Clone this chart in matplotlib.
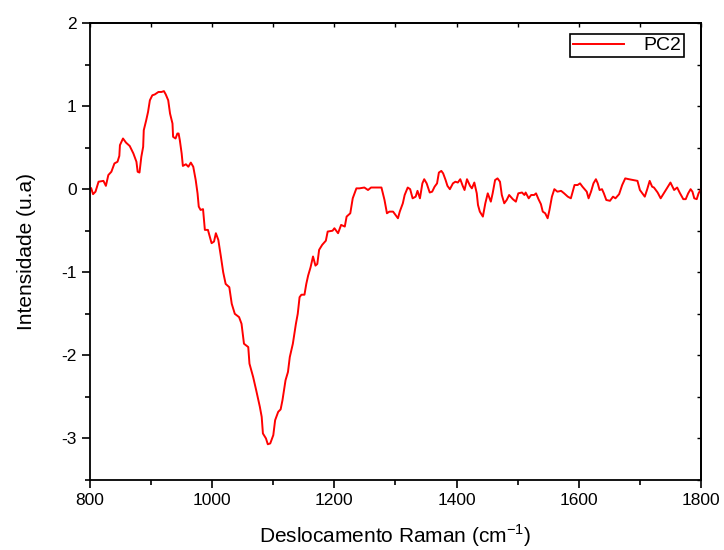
import matplotlib
matplotlib.use("Agg")
import matplotlib.pyplot as plt
from matplotlib.ticker import MultipleLocator

plt.rcParams['font.family'] = ['Liberation Sans', 'DejaVu Sans']
plt.rcParams['axes.unicode_minus'] = False
plt.rcParams['mathtext.fontset'] = 'custom'
plt.rcParams['mathtext.rm'] = 'Liberation Sans'

wavenumber = [802, 805, 809, 814, 822, 826, 830, 835, 840, 845, 848, 849, 854, 859, 865,
              871, 876, 878, 881, 884, 887, 888, 892, 895, 898, 902, 906, 912, 917, 921,
              924, 928, 931, 935, 936, 940, 943, 945, 947, 950, 952, 957, 961, 965, 969,
              973, 976, 978, 981, 985, 988, 993, 999, 1003, 1006, 1010, 1014, 1018, 1022,
              1028, 1032, 1037, 1044, 1048, 1052, 1059, 1061, 1067, 1072, 1078, 1081, 1083,
              1088, 1091, 1095, 1100, 1103, 1108, 1112, 1115, 1120, 1124, 1127, 1132, 1137,
              1140, 1143, 1146, 1151, 1154, 1157, 1161, 1165, 1169, 1172, 1175, 1180, 1186,
              1189, 1197, 1200, 1206, 1211, 1217, 1220, 1226, 1230, 1236, 1241, 1249, 1255,
              1260, 1268, 1277, 1282, 1286, 1290, 1296, 1300, 1304, 1307, 1312, 1315, 1320,
              1324, 1328, 1333, 1336, 1340, 1344, 1347, 1351, 1356, 1360, 1364, 1368, 1371,
              1375, 1378, 1382, 1385, 1389, 1394, 1398, 1402, 1406, 1410, 1413, 1417, 1422,
              1425, 1429, 1433, 1435, 1438, 1443, 1447, 1451, 1454, 1456, 1459, 1463, 1467,
              1471, 1474, 1478, 1482, 1486, 1492, 1497, 1501, 1507, 1511, 1513, 1518, 1522,
              1527, 1530, 1534, 1538, 1541, 1545, 1549, 1552, 1556, 1560, 1565, 1571, 1576,
              1582, 1587, 1593, 1598, 1602, 1606, 1613, 1616, 1620, 1624, 1628, 1631, 1634,
              1638, 1641, 1645, 1651, 1656, 1660, 1666, 1671, 1676, 1682, 1689, 1696, 1700,
              1705, 1708, 1712, 1716, 1720, 1723, 1729, 1734, 1740, 1745, 1750, 1756, 1761,
              1765, 1771, 1775, 1779, 1783, 1786, 1789, 1793, 1796, 1800]

pc2 = [0.01, -0.06, -0.03, 0.09, 0.10, 0.04, 0.17, 0.21, 0.31, 0.33, 0.40, 0.53, 0.61, 0.56, 0.52,
       0.43, 0.33, 0.21, 0.20, 0.39, 0.51, 0.71, 0.83, 0.93, 1.07, 1.13, 1.14, 1.17, 1.17, 1.18,
       1.14, 1.07, 0.91, 0.79, 0.63, 0.61, 0.67, 0.67, 0.59, 0.43, 0.28, 0.30, 0.27, 0.32, 0.27,
       0.11, -0.05, -0.21, -0.25, -0.24, -0.49, -0.49, -0.65, -0.63, -0.53, -0.61, -0.80, -1.00, -1.14,
       -1.18, -1.38, -1.50, -1.54, -1.62, -1.86, -1.90, -2.10, -2.26, -2.42, -2.62, -2.74, -2.94,
       -3.00, -3.07, -3.06, -2.96, -2.78, -2.68, -2.65, -2.54, -2.30, -2.20, -2.02, -1.86, -1.62,
       -1.50, -1.30, -1.27, -1.27, -1.14, -1.04, -0.94, -0.81, -0.92, -0.90, -0.73, -0.67, -0.62,
       -0.51, -0.50, -0.47, -0.53, -0.43, -0.45, -0.33, -0.29, -0.11, 0.01, 0.01, 0.02, -0.01,
       0.02, 0.02, 0.02, -0.13, -0.29, -0.27, -0.27, -0.31, -0.35, -0.27, -0.17, -0.07, 0.02,
       0.00, -0.11, -0.09, -0.02, -0.11, 0.07, 0.12, 0.07, -0.04, -0.03, 0.03, 0.07, 0.20,
       0.22, 0.19, 0.11, 0.04, 0.00, 0.07, 0.09, 0.08, 0.12, 0.04, -0.01, 0.12, 0.04,
       0.01, 0.08, -0.05, -0.19, -0.27, -0.33, -0.17, -0.05, -0.11, -0.15, -0.05, 0.11, 0.13,
       0.09, -0.07, -0.17, -0.13, -0.07, -0.12, -0.15, -0.05, -0.04, -0.07, -0.04, -0.11, -0.07,
       -0.07, -0.05, -0.12, -0.18, -0.27, -0.29, -0.35, -0.25, -0.09, 0.00, -0.03, -0.02, -0.05,
       -0.09, -0.11, 0.05, 0.05, 0.07, 0.03, -0.03, -0.11, -0.03, 0.07, 0.12, 0.07, -0.01,
       0.00, -0.05, -0.13, -0.14, -0.09, -0.11, -0.06, 0.05, 0.13, 0.12, 0.11, 0.10, -0.01,
       -0.06, -0.09, 0.00, 0.10, 0.03, 0.02, -0.04, -0.11, -0.04, 0.02, 0.08, -0.01, 0.02,
       -0.04, -0.12, -0.12, -0.05, 0.00, -0.03, -0.11, -0.12, -0.05, 0.00]

series_label = "PC2"
x_label = "Deslocamento Raman (cm$^{\\mathregular{-1}}$)"
y_label = "Intensidade (u.a)"

fig = plt.figure(figsize=(7.24, 5.5), dpi=100)
ax = fig.add_axes([90/724, 1-480/550, 611/724, 457/550])
ax.plot(wavenumber, pc2, color='#ff0000', lw=1.4, label=series_label)
ax.set_xlim(800, 1800)
ax.set_ylim(-3.5, 2)
ax.xaxis.set_major_locator(MultipleLocator(200))
ax.xaxis.set_minor_locator(MultipleLocator(100))
ax.yaxis.set_major_locator(MultipleLocator(1))
ax.yaxis.set_minor_locator(MultipleLocator(0.5))
ax.tick_params(which='major', direction='out', length=6, width=1.2, labelsize=12.5,
               top=False, right=False)
ax.tick_params(which='minor', direction='out', length=3.5, width=1.2, top=False, right=False)
for s in ax.spines.values():
    s.set_linewidth(1.3)
# mirrored ticks on top/right (inward)
axt = ax.secondary_xaxis('top')
axt.xaxis.set_major_locator(MultipleLocator(200))
axt.xaxis.set_minor_locator(MultipleLocator(100))
axt.tick_params(which='both', direction='in', length=3, width=1.0, labeltop=False)
axt.spines['top'].set_linewidth(1.3)
axr = ax.secondary_yaxis('right')
axr.yaxis.set_major_locator(MultipleLocator(1))
axr.yaxis.set_minor_locator(MultipleLocator(0.5))
axr.tick_params(which='both', direction='in', length=3, width=1.0, labelright=False)
axr.spines['right'].set_linewidth(1.3)

ax.set_xlabel(x_label, fontsize=15, labelpad=10)
ax.set_ylabel(y_label, fontsize=15, labelpad=18)
leg = ax.legend(loc='upper right', bbox_to_anchor=(0.972, 0.976), borderaxespad=0,
                fancybox=False, edgecolor='black', framealpha=1, fontsize=14,
                handlelength=2.6, handletextpad=1.0, borderpad=0.15)
leg.get_frame().set_linewidth(1.2)
fig.savefig('out.png', dpi=100)
